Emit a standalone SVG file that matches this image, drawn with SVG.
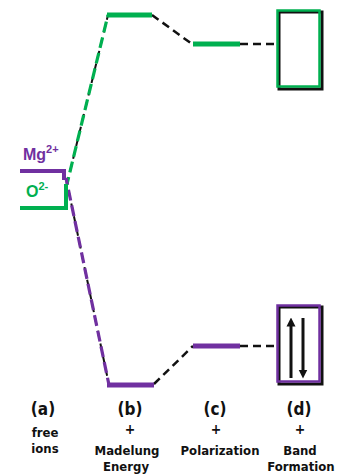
<svg xmlns="http://www.w3.org/2000/svg" width="344" height="475" viewBox="0 0 344 475">
<style>
.g{stroke:#00b050;fill:none}
.p{stroke:#7030a0;fill:none}
.lvl{stroke-width:5}
.dk{stroke:#111;stroke-width:2.5;stroke-dasharray:8 5;fill:none}
.under{stroke:#111;stroke-width:2;stroke-dasharray:7 6;fill:none}
.cd{stroke-width:3.2;stroke-dasharray:11 5;fill:none}
.lab{font-family:"DejaVu Sans Condensed","DejaVu Sans",sans-serif;font-stretch:condensed;font-weight:bold;fill:#111;text-anchor:middle}
.ion{font-family:"Liberation Sans",Arial,sans-serif;font-weight:bold}
</style>
<defs>
<marker id="ah" viewBox="0 0 10 10" refX="5" refY="5" markerWidth="3" markerHeight="4" orient="auto-start-reverse"><path d="M0,0L10,5L0,10z" fill="#111"/></marker>
</defs>
<rect width="344" height="475" fill="#fff"/>
<g id="connectors">
<path class="under" d="M67,184 L108,15"/>
<path class="g cd" d="M67,184 L108,15" stroke-dashoffset="4"/>
<path class="under" d="M66,178 L109,385"/>
<path class="p cd" d="M66,178 L109,385" stroke-dashoffset="4"/>
<path class="dk" d="M152,15 L192,44"/>
<path class="dk" d="M240,44 L276,44"/>
<path class="dk" d="M154,384 L193,346"/>
<path class="dk" d="M240,346 L276,346"/>
</g>
<g id="free-ions">
<path class="p" stroke-width="4" d="M20,171 H64 V180"/>
<path class="g" stroke-width="4" d="M20,208 H66 V184"/>
<text class="ion" x="23" y="160" font-size="16" fill="#7030a0">Mg<tspan font-size="11" dy="-7">2+</tspan></text>
<text class="ion" x="26" y="197" font-size="16" fill="#00b050">O<tspan font-size="11" dy="-7">2-</tspan></text>
</g>
<g id="madelung">
<path class="g lvl" d="M107,15 H152"/>
<path class="p lvl" d="M107,385 H154"/>
</g>
<g id="polarization">
<path class="g lvl" d="M193,44 H240"/>
<path class="p lvl" d="M193,346 H240"/>
</g>
<g id="band-top">
<rect x="279" y="12" width="43" height="77" fill="none" stroke="#111" stroke-width="3"/>
<rect x="277.5" y="10.5" width="42" height="76" fill="none" stroke="#00b050" stroke-width="2.5"/>
</g>
<g id="band-bottom">
<rect x="279" y="307" width="43" height="77" fill="none" stroke="#111" stroke-width="3"/>
<rect x="277.5" y="305.5" width="42" height="76" fill="none" stroke="#7030a0" stroke-width="2.5"/>
<path d="M291,378 V322" stroke="#111" stroke-width="3" marker-end="url(#ah)"/>
<path d="M303,318 V374" stroke="#111" stroke-width="3" marker-end="url(#ah)"/>
</g>
<g id="labels">
<text class="lab" x="43" y="415" font-size="17">(a)</text>
<text class="lab" x="45" y="437" font-size="13">free</text>
<text class="lab" x="45" y="453" font-size="13">ions</text>
<text class="lab" x="130" y="415" font-size="17">(b)</text>
<text class="lab" x="130" y="434" font-size="14">+</text>
<text class="lab" x="127" y="455" font-size="13">Madelung</text>
<text class="lab" x="126" y="471" font-size="13">Energy</text>
<text class="lab" x="215" y="415" font-size="17">(c)</text>
<text class="lab" x="216" y="434" font-size="14">+</text>
<text class="lab" x="220" y="455" font-size="13">Polarization</text>
<text class="lab" x="299" y="415" font-size="17">(d)</text>
<text class="lab" x="300" y="434" font-size="14">+</text>
<text class="lab" x="300" y="455" font-size="13">Band</text>
<text class="lab" x="301" y="471" font-size="13">Formation</text>
</g>
</svg>
